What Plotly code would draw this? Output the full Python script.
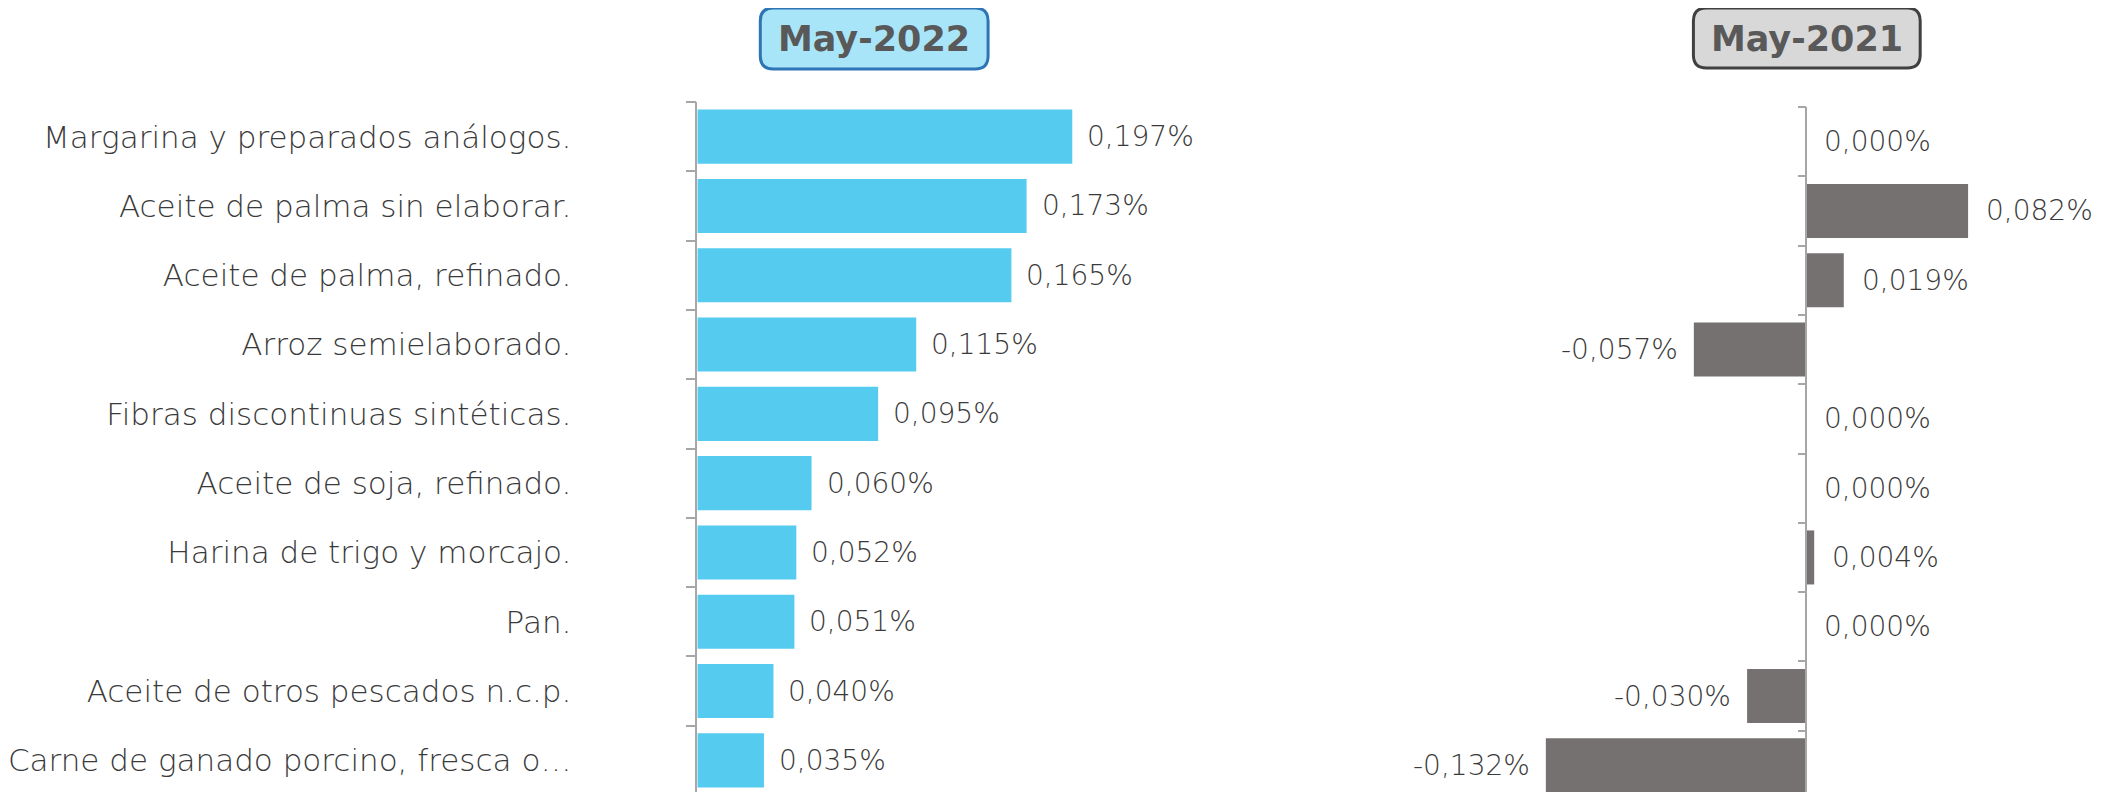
import plotly.graph_objects as go

categories = [
    "Margarina y preparados análogos.",
    "Aceite de palma sin elaborar.",
    "Aceite de palma, refinado.",
    "Arroz semielaborado.",
    "Fibras discontinuas sintéticas.",
    "Aceite de soja, refinado.",
    "Harina de trigo y morcajo.",
    "Pan.",
    "Aceite de otros pescados n.c.p.",
    "Carne de ganado porcino, fresca o…",
]
may_2022 = [0.197, 0.173, 0.165, 0.115, 0.095, 0.060, 0.052, 0.051, 0.040, 0.035]
may_2021 = [0.000, 0.082, 0.019, -0.057, 0.000, 0.000, 0.004, 0.000, -0.030, -0.132]
title_2022 = "May-2022"
title_2021 = "May-2021"

W, H = 2117, 792
OFF = 8  # page body margin compensation
FONT = "DejaVu Sans"
TXT = "#595959"
TXT_LIGHT = "#3A3A3A"
AX = "#A6A6A6"
LIGHT = 300

def fmt(v):
    return f"{v:.3f}".replace(".", ",") + "%"

def px(x):
    return (x - OFF) / W

def py(y):
    return 1 - (y - OFF) / H

fig = go.Figure()
fig.add_trace(go.Bar(
    x=may_2022, y=categories, orientation="h",
    marker=dict(color="#56CBF0", line=dict(width=0)),
    width=0.78, xaxis="x", yaxis="y", hoverinfo="skip",
))
fig.add_trace(go.Bar(
    x=may_2021, y=categories, orientation="h",
    marker=dict(color="#767171", line=dict(width=0)),
    width=0.78, xaxis="x2", yaxis="y2", hoverinfo="skip",
))

annotations = []
for c, v in zip(categories, may_2022):
    annotations.append(dict(x=v, y=c, xref="x", yref="y", text=fmt(v),
                            showarrow=False, xanchor="left", xshift=13,
                            font=dict(family=FONT, size=28, color=TXT_LIGHT, weight=LIGHT)))
for c, v in zip(categories, may_2021):
    annotations.append(dict(x=v, y=c, xref="x2", yref="y2", text=fmt(v),
                            showarrow=False,
                            xanchor="left" if v >= 0 else "right",
                            xshift=16 if v >= 0 else -14,
                            font=dict(family=FONT, size=28, color=TXT_LIGHT, weight=LIGHT)))

def rounded(x0, y0, x1, y1, r=13):
    def P(x, y):
        return f"{px(x):.6f},{py(y):.6f}"
    return (f"M {P(x0 + r, y0)} L {P(x1 - r, y0)} Q {P(x1, y0)} {P(x1, y0 + r)} "
            f"L {P(x1, y1 - r)} Q {P(x1, y1)} {P(x1 - r, y1)} "
            f"L {P(x0 + r, y1)} Q {P(x0, y1)} {P(x0, y1 - r)} "
            f"L {P(x0, y0 + r)} Q {P(x0, y0)} {P(x0 + r, y0)} Z")

shapes = [
    dict(type="path", xref="paper", yref="paper", path=rounded(759, 8, 987, 69),
         fillcolor="#A9E5F8", line=dict(color="#2E75B6", width=3), layer="above"),
    dict(type="path", xref="paper", yref="paper", path=rounded(1693, 8, 1920, 68),
         fillcolor="#D9D8D9", line=dict(color="#404040", width=3), layer="above"),
]
annotations.append(dict(x=px(873), y=py(39), xref="paper", yref="paper", text=f"<b>{title_2022}</b>",
                        showarrow=False, xanchor="center", yanchor="middle",
                        font=dict(family=FONT, size=35, color=TXT)))
annotations.append(dict(x=px(1806.5), y=py(39), xref="paper", yref="paper", text=f"<b>{title_2021}</b>",
                        showarrow=False, xanchor="center", yanchor="middle",
                        font=dict(family=FONT, size=35, color=TXT)))

s1 = 1905.0
x1_lo, x1_hi = 696, 1330
s2 = 1975.0
x2_lo, x2_hi, x2_zero = 1440, 2117, 1806

bot = H + OFF
fig.update_layout(
    width=W, height=H,
    margin=dict(l=0, r=0, t=0, b=0),
    paper_bgcolor="white", plot_bgcolor="white",
    showlegend=False, barmode="overlay",
    xaxis=dict(domain=[px(x1_lo), px(x1_hi)], range=[0, (x1_hi - x1_lo) / s1],
               visible=False, fixedrange=True),
    yaxis=dict(domain=[0, py(102)], anchor="x", type="category",
               categoryorder="array", categoryarray=categories,
               range=[-0.5 + (bot - 102) / 69.3, -0.5], showline=True, linecolor=AX, linewidth=1.5,
               ticks="outside", tickson="boundaries", ticklen=10, tickcolor=AX, tickwidth=1.5,
               showgrid=False, zeroline=False, ticklabelstandoff=118,
               tickfont=dict(family=FONT, size=31, color=TXT_LIGHT, weight=LIGHT)),
    xaxis2=dict(domain=[px(x2_lo), min(1.0, px(x2_hi))],
                range=[-(x2_zero - x2_lo) / s2, (min(W + OFF, x2_hi) - x2_zero) / s2],
                visible=False, anchor="y2", fixedrange=True),
    yaxis2=dict(domain=[0, py(107)], anchor="free", position=px(x2_zero),
                type="category", categoryorder="array", categoryarray=categories,
                range=[-0.5 + (bot - 107) / 69.3, -0.5], showline=True, linecolor=AX, linewidth=1.5,
                ticks="outside", tickson="boundaries", ticklen=8, tickcolor=AX, tickwidth=1.5,
                showgrid=False, zeroline=False, showticklabels=False),
    shapes=shapes,
    annotations=annotations,
)

fig.write_html("out.html")
